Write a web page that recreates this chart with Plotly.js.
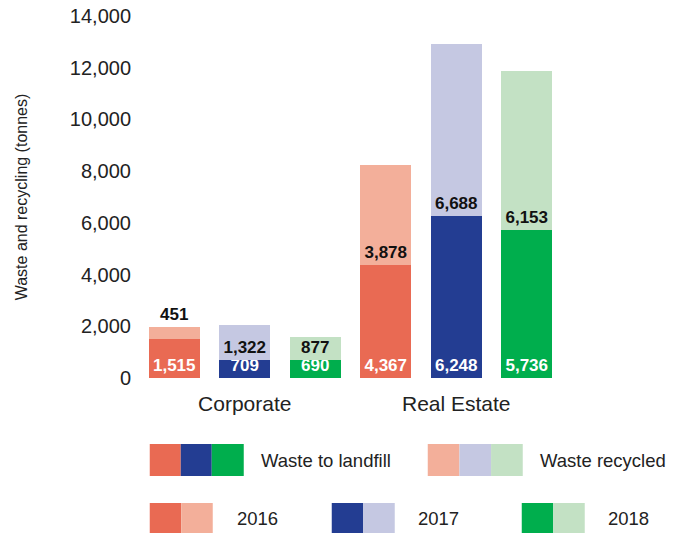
<!DOCTYPE html>
<html>
<head>
<meta charset="utf-8">
<script src="https://cdn.plot.ly/plotly-3.0.1.min.js"></script>
<style>
  html, body { margin: 0; padding: 0; background: #fff; }
  #chart { width: 686px; height: 533px; }
</style>
</head>
<body>
<div id="chart"></div>
<script>
// ---- data ----
var groups = ["Corporate", "Real Estate"];
var years = ["2016", "2017", "2018"];
var landfill = [1515, 709, 690, 4367, 6248, 5736];
var recycled = [451, 1322, 877, 3878, 6688, 6153];
var landfillColors = ["#E96A53", "#233D92", "#00AE4D"];
var recycledColors = ["#F3AF9A", "#C5C8E2", "#C3E1C4"];
var seriesNames = ["Waste to landfill", "Waste recycled"];

// ---- derived categories ----
var cats = [], catColorsL = [], catColorsR = [];
groups.forEach(function (g) {
  years.forEach(function (y, i) {
    cats.push(g + " " + y);
    catColorsL.push(landfillColors[i]);
    catColorsR.push(recycledColors[i]);
  });
});
var groupTickVals = groups.map(function (g) { return g + " " + years[1]; });
// recycled labels: the small 2016 corporate one sits above its bar
var recycledTextPos = recycled.map(function (v, i) { return i === 0 ? "outside" : "inside"; });

var W = 686, H = 533;
var mL = 139.25, mR = 686 - 562.25, mT = 16, mB = 533 - 378;
var plotW = W - mL - mR, plotH = H - mT - mB;
function px(x) { return (x - mL) / plotW; }
function py(y) { return (H - mB - y) / plotH; }

var labelFont = { family: "Liberation Sans, Arial, sans-serif", size: 17, weight: 700 };

var traces = [
  {
    type: "bar", name: seriesNames[0], x: cats, y: landfill,
    marker: { color: catColorsL, line: { width: 0 } },
    texttemplate: "%{y:,.0f}", textposition: "inside", insidetextanchor: "start",
    insidetextfont: Object.assign({}, labelFont, { color: "#ffffff" }),
    constraintext: "none", hoverinfo: "skip", showlegend: false
  },
  {
    type: "bar", name: seriesNames[1], x: cats, y: recycled,
    marker: { color: catColorsR, line: { width: 0 } },
    texttemplate: "%{y:,.0f}", textposition: recycledTextPos, insidetextanchor: "start",
    insidetextfont: Object.assign({}, labelFont, { color: "#111111" }),
    outsidetextfont: Object.assign({}, labelFont, { color: "#111111" }),
    constraintext: "none", cliponaxis: false, hoverinfo: "skip", showlegend: false
  }
];

// ---- custom legend (shapes + annotations) ----
var shapes = [], annotations = [];
function box(x0, x1, y0, y1, color) {
  shapes.push({ type: "rect", xref: "paper", yref: "paper",
    x0: px(x0), x1: px(x1), y0: py(y1), y1: py(y0),
    fillcolor: color, line: { width: 0 }, layer: "above" });
}
function label(x, yc, text) {
  annotations.push({ xref: "paper", yref: "paper", x: px(x), y: py(yc),
    xanchor: "left", yanchor: "middle", showarrow: false, text: text,
    font: { family: "Liberation Sans, Arial, sans-serif", size: 18.5, color: "#222222" } });
}
// row 1
var r1 = [444, 476];
var l1x = [150, 181, 212, 244];
for (var i = 0; i < 3; i++) box(l1x[i], l1x[i + 1], r1[0], r1[1], landfillColors[i]);
label(259, 460, seriesNames[0]);
var l2x = [428, 459.7, 491.3, 523];
for (var j = 0; j < 3; j++) box(l2x[j], l2x[j + 1], r1[0], r1[1], recycledColors[j]);
label(538, 460, seriesNames[1]);
// row 2
var r2 = [503, 533];
var yStarts = [150, 332, 522];
var yTexts = [235, 416, 606];
for (var k = 0; k < 3; k++) {
  box(yStarts[k], yStarts[k] + 31.5, r2[0], r2[1], landfillColors[k]);
  box(yStarts[k] + 31.5, yStarts[k] + 63, r2[0], r2[1], recycledColors[k]);
  label(yTexts[k], 518, years[k]);
}

var layout = {
  width: W, height: H,
  margin: { l: mL, r: mR, t: mT, b: mB, pad: 0 },
  paper_bgcolor: "#ffffff", plot_bgcolor: "#ffffff",
  barmode: "stack", bargap: 0.277,
  showlegend: false,
  font: { family: "Liberation Sans, Arial, sans-serif", color: "#222222" },
  xaxis: {
    type: "category", categoryorder: "array", categoryarray: cats,
    range: [-0.5, 5.5], tickvals: groupTickVals, ticktext: groups,
    showgrid: false, zeroline: false, showline: false, ticks: "",
    tickfont: { size: 21, color: "#222222" }, ticklabelstandoff: 11, automargin: false
  },
  yaxis: {
    range: [0, 14000], dtick: 2000, tickformat: ",",
    showgrid: false, zeroline: false, showline: false, ticks: "",
    tickfont: { size: 20, color: "#222222" }, ticklabelstandoff: 7,
    title: { text: "Waste and recycling (tonnes)", font: { size: 16, color: "#222222" }, standoff: 38 },
    automargin: false
  },
  shapes: shapes,
  annotations: annotations
};

Plotly.newPlot("chart", traces, layout, { displayModeBar: false, staticPlot: true });
</script>
</body>
</html>
